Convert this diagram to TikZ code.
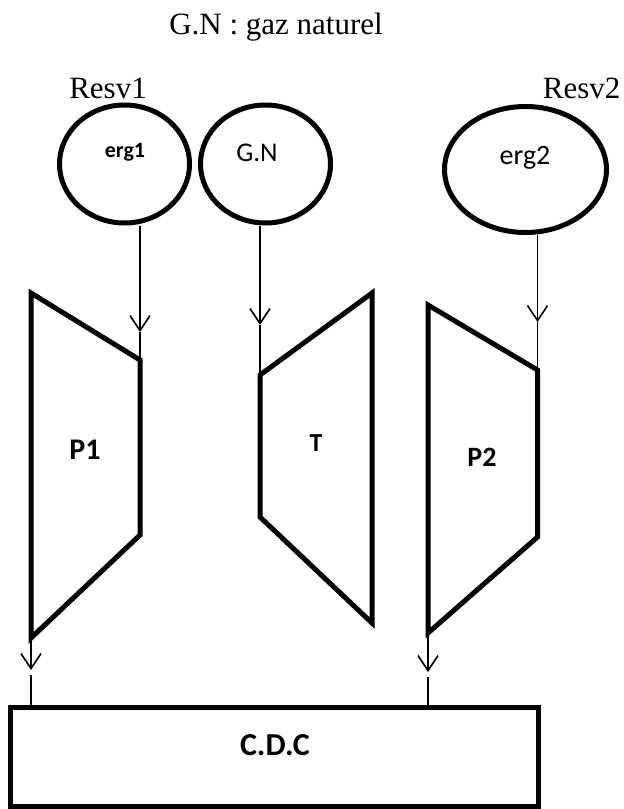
\documentclass[tikz,border=0pt]{standalone}
\usepackage{fontspec}
\setmainfont{Liberation Serif}
\newfontfamily\calfont{Carlito}
\usetikzlibrary{arrows.meta,shapes.geometric}
\begin{document}
\begin{tikzpicture}[x=1pt,y=-1pt,
  thickline/.style={line width=5pt, line join=miter},
  res/.style={ellipse, draw, line width=5pt, inner sep=0pt},
  flow/.style={line width=1.6pt},
  arr/.style={flow, -{Straight Barb[length=15pt,width=20pt]}},
  serif/.style={font=\fontsize{31}{35}\selectfont},
  lab/.style={font=\calfont\fontsize{#1}{#1}\selectfont},
  blab/.style={font=\calfont\bfseries\fontsize{#1}{#1}\selectfont}]
\useasboundingbox (0,0) rectangle (624,809);

% title
\node[serif] (title) at (276,27) {G.N : gaz naturel};
\node[serif] (resv1) at (108,88) {Resv1};
\node[serif, anchor=east] (resv2) at (624,88) {Resv2};

% reservoirs
\node[res, minimum width=130pt, minimum height=118pt] (erg1) at (124.5,164) {};
\node[res, minimum width=130pt, minimum height=118pt] (gn) at (265.5,164) {};
\node[res, minimum width=162pt, minimum height=126pt] (erg2) at (525.5,169.5) {};
\node[blab=22] (erg1t) at (125,152) {erg1};
\node[lab=27] (gnt) at (257,153) {G.N};
\node[lab=28] (erg2t) at (525,158) {erg2};

% trapezoid corners
\coordinate (p1a) at (31,293);
\coordinate (p1b) at (140,360);
\coordinate (p1c) at (140,535);
\coordinate (p1d) at (31,638);
\coordinate (ta) at (260,375);
\coordinate (tb) at (372,293);
\coordinate (tc) at (372,623);
\coordinate (td) at (260,517);
\coordinate (p2a) at (428,305);
\coordinate (p2b) at (537.5,370);
\coordinate (p2c) at (537.5,537);
\coordinate (p2d) at (428,633);

\draw[thickline] (p1a) -- (p1b) -- (p1c) -- (p1d) -- cycle;
\draw[thickline] (ta) -- (tb) -- (tc) -- (td) -- cycle;
\draw[thickline] (p2a) -- (p2b) -- (p2c) -- (p2d) -- cycle;

\node[blab=30] (p1) at (85,450) {P1};
\node[blab=26] (t) at (316,443) {T};
\node[blab=28] (p2) at (482,457) {P2};

% collector
\node[draw, line width=5pt, minimum width=528pt, minimum height=98.5pt, inner sep=0pt] (cdc) at (274,756.75) {};
\node[blab=32] (cdct) at (275,745) {C.D.C};

% top arrows
\coordinate (tip1) at (140,332);
\coordinate (tip2) at (260,325);
\coordinate (tip3) at (537.5,322);
\draw[arr] (erg1.south -| p1b) -- (tip1);
\draw[flow] (tip1) -- (p1b);
\draw[arr] (gn.south -| ta) -- (tip2);
\draw[flow] (tip2) -- (ta);
\draw[arr] (erg2.south -| p2b) -- (tip3);
\draw[flow] (tip3) -- (p2b);

% bottom arrows
\coordinate (tip4) at (31,670);
\coordinate (s4) at (31,675);
\coordinate (tip5) at (428,672);
\coordinate (s5) at (428,677);
\draw[arr] (p1d) -- (tip4);
\draw[flow] (s4) -- (cdc.north -| s4);
\draw[arr] (p2d) -- (tip5);
\draw[flow] (s5) -- (cdc.north -| s5);
\end{tikzpicture}
\end{document}
